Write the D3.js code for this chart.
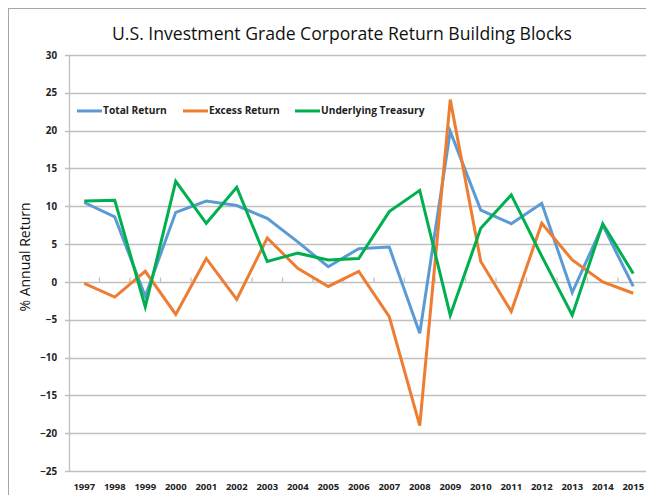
<!DOCTYPE html>
<html>
<head>
<meta charset="utf-8">
<script src="https://cdn.jsdelivr.net/npm/d3@7"></script>
<style>
  body { margin: 0; background: #fff; }
  .tick text { font-family: "Open Sans", sans-serif; font-weight: bold; fill: #222; }
</style>
</head>
<body>
<div id="chart"></div>
<script>
// chart data
var years = ["1997", "1998", "1999", "2000", "2001", "2002", "2003", "2004", "2005", "2006",
  "2007", "2008", "2009", "2010", "2011", "2012", "2013", "2014", "2015"];
var totalReturn = [10.5, 8.6, -1.9, 9.2, 10.7, 10.1, 8.4, 5.3, 2.0, 4.4, 4.6, -6.8, 19.9, 9.5, 7.7, 10.4, -1.4, 7.5, -0.6];
var excessReturn = [-0.2, -2.0, 1.4, -4.3, 3.1, -2.3, 5.8, 1.8, -0.6, 1.4, -4.6, -19.0, 24.1, 2.7, -3.9, 7.75, 2.9, 0.0, -1.5];
var underlyingTreasury = [10.7, 10.8, -3.3, 13.3, 7.75, 12.5, 2.7, 3.8, 2.9, 3.1, 9.3, 12.1, -4.4, 7.1, 11.5, 3.4, -4.4, 7.7, 1.1];
var yTicks = [-25, -20, -15, -10, -5, 0, 5, 10, 15, 20, 25, 30];

var series = [
  {name: "Total Return", values: totalReturn, color: "#5B9BD5"},
  {name: "Excess Return", values: excessReturn, color: "#ED7D31"},
  {name: "Underlying Treasury", values: underlyingTreasury, color: "#00B050"}
];

var svgWidth = 646;
var svgHeight = 495;

var margin = {top: 55, left: 69};
var width = 30.5 * years.length;
var height = 416;

var svg = d3.select("#chart")
  .append("svg")
  .attr("width", svgWidth)
  .attr("height", svgHeight);

// outer chart border
svg.append("rect")
  .attr("x", 8.5)
  .attr("y", 8.5)
  .attr("width", 660)
  .attr("height", 520)
  .attr("fill", "none")
  .attr("stroke", "#a6a6a6")
  .attr("stroke-width", 1);

// title
svg.append("text")
  .attr("x", 342)
  .attr("y", 40)
  .attr("text-anchor", "middle")
  .style("font-family", "Open Sans, sans-serif")
  .style("font-size", "17.6px")
  .style("fill", "#111")
  .text("U.S. Investment Grade Corporate Return Building Blocks");

var chartGroup = svg.append("g")
  .attr("transform", `translate(${margin.left}, ${margin.top})`);

var xScale = d3.scaleBand()
  .domain(years)
  .range([0, width]);

var yScale = d3.scaleLinear()
  .domain([-25, 30])
  .range([height, 0]);

// gridlines
chartGroup.append("g")
  .selectAll("line")
  .data(yTicks)
  .enter()
  .append("line")
  .attr("x1", -4)
  .attr("x2", width)
  .attr("y1", d => Math.round(yScale(d)) + 0.5)
  .attr("y2", d => Math.round(yScale(d)) + 0.5)
  .attr("stroke", "#bfbfbf")
  .attr("stroke-width", 1.3);

// y axis
var leftAxis = d3.axisLeft(yScale)
  .tickValues(yTicks)
  .tickSize(0)
  .tickPadding(12);

var yAxis = chartGroup.append("g").call(leftAxis);
yAxis.select(".domain").remove();
yAxis.selectAll("text").style("font-size", "9.8px");

chartGroup.append("line")
  .attr("x1", 0.5).attr("x2", 0.5)
  .attr("y1", 0).attr("y2", height)
  .attr("stroke", "#bfbfbf")
  .attr("stroke-width", 1.3);

// category tick marks at zero line
var zeroY = Math.round(yScale(0)) + 0.5;
chartGroup.append("g")
  .selectAll("line")
  .data(years.slice(1))
  .enter()
  .append("line")
  .attr("x1", d => xScale(d))
  .attr("x2", d => xScale(d))
  .attr("y1", zeroY)
  .attr("y2", zeroY - 5)
  .attr("stroke", "#bfbfbf")
  .attr("stroke-width", 1.2);

// x axis labels along the bottom
var bottomAxis = d3.axisBottom(xScale)
  .tickSize(0)
  .tickPadding(12);

var xAxis = chartGroup.append("g")
  .attr("transform", `translate(0, ${height})`)
  .call(bottomAxis);
xAxis.select(".domain").remove();
xAxis.selectAll("text").style("font-size", "9.5px");

// y axis title
svg.append("text")
  .attr("transform", "translate(30, 257) rotate(-90)")
  .attr("text-anchor", "middle")
  .style("font-family", "Open Sans, sans-serif")
  .style("font-size", "14px")
  .style("fill", "#111")
  .text("% Annual Return");

// lines
var line = d3.line()
  .x((d, i) => xScale(years[i]) + xScale.bandwidth() / 2)
  .y(d => yScale(d));

chartGroup.selectAll("path.series")
  .data(series)
  .enter()
  .append("path")
  .attr("class", "series")
  .attr("d", d => line(d.values))
  .attr("fill", "none")
  .attr("stroke", d => d.color)
  .attr("stroke-width", 3)
  .attr("stroke-linejoin", "miter");

// legend
var legendX = [8, 114, 226];
var legend = chartGroup.selectAll("g.legend")
  .data(series)
  .enter()
  .append("g")
  .attr("class", "legend")
  .attr("transform", (d, i) => `translate(${legendX[i]}, ${yScale(22.6)})`);

legend.append("line")
  .attr("x1", 0)
  .attr("x2", 25)
  .attr("stroke", d => d.color)
  .attr("stroke-width", 3);

legend.append("text")
  .attr("x", 26)
  .attr("y", 3.5)
  .style("font-family", "Open Sans, sans-serif")
  .style("font-weight", "bold")
  .style("font-size", "10.2px")
  .style("fill", "#222")
  .text(d => d.name);
</script>
</body>
</html>
